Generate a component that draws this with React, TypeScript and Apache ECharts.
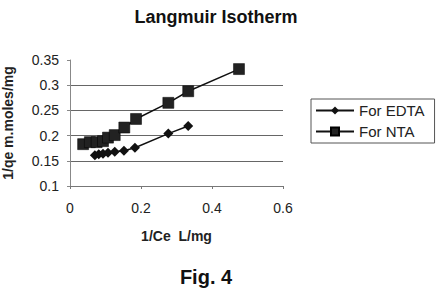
import React, { useEffect, useRef } from "react";
import * as echarts from "echarts";

const edtaX = [0.070, 0.081, 0.093, 0.107, 0.126, 0.152, 0.183, 0.277, 0.333];
const edtaY = [0.161, 0.163, 0.164, 0.166, 0.168, 0.170, 0.176, 0.204, 0.219];
const ntaX = [0.037, 0.056, 0.075, 0.093, 0.107, 0.126, 0.153, 0.186, 0.277, 0.333, 0.476];
const ntaY = [0.183, 0.187, 0.187, 0.189, 0.196, 0.201, 0.216, 0.233, 0.265, 0.288, 0.332];
const seriesNames = ["For EDTA", "For NTA"];

const FONT = "Liberation Sans, Arial, sans-serif";

export default function App() {
  const ref = useRef<HTMLDivElement>(null);
  useEffect(() => {
    if (!ref.current) return;
    const chart = echarts.init(ref.current, null, { renderer: "svg" });
    chart.setOption({
      animation: false,
      backgroundColor: "#fff",
      title: [
        {
          text: "Langmuir Isotherm",
          left: 211,
          top: 3,
          textAlign: "center",
          textStyle: { fontFamily: FONT, fontSize: 18, fontWeight: "bold", color: "#111" },
        },
        {
          text: "Fig. 4",
          left: 201,
          top: 262,
          textAlign: "center",
          textStyle: { fontFamily: FONT, fontSize: 20, fontWeight: "bold", color: "#111" },
        },
      ],
      grid: { left: 68, right: 154, top: 60, bottom: 110 },
      legend: {
        orient: "vertical",
        left: 311,
        top: 99,
        width: 117,
        itemWidth: 38,
        itemHeight: 10,
        itemGap: 6,
        padding: [4, 10, 4, 4],
        borderColor: "#555",
        borderWidth: 1,
        textStyle: { fontFamily: FONT, fontSize: 15, color: "#222" },
        data: seriesNames,
      },
      xAxis: {
        type: "value",
        min: 0,
        max: 0.6,
        interval: 0.2,
        name: "1/Ce  L/mg",
        nameLocation: "middle",
        nameGap: 43,
        nameTextStyle: { fontFamily: FONT, fontSize: 14, fontWeight: "bold", color: "#222" },
        axisLine: { show: true, lineStyle: { color: "#777", width: 1 } },
        axisTick: { show: true, length: 3, lineStyle: { color: "#777" } },
        splitLine: { show: false },
        axisLabel: { fontFamily: FONT, fontSize: 14, color: "#222", margin: 15 },
      },
      yAxis: {
        type: "value",
        min: 0.1,
        max: 0.35,
        interval: 0.05,
        name: "1/qe m.moles/mg",
        nameLocation: "middle",
        nameGap: 55,
        nameTextStyle: { fontFamily: FONT, fontSize: 14, fontWeight: "bold", color: "#222" },
        axisLine: { show: true, lineStyle: { color: "#888", width: 1 } },
        axisTick: { show: true, length: 3, lineStyle: { color: "#888" } },
        splitLine: {
          show: true,
          showMaxLine: false,
          lineStyle: { color: "#666", width: 1.2, type: "solid" },
        },
        axisLabel: {
          fontFamily: FONT,
          fontSize: 14,
          color: "#222",
          margin: 11,
          formatter: (v: number) => String(Math.round(v * 100) / 100),
        },
      },
      series: [
        {
          name: seriesNames[0],
          type: "line",
          data: edtaX.map((x, i) => [x, edtaY[i]]),
          symbol: "diamond",
          symbolSize: 10,
          itemStyle: { color: "#111" },
          lineStyle: { color: "#111", width: 1.5 },
        },
        {
          name: seriesNames[1],
          type: "line",
          data: ntaX.map((x, i) => [x, ntaY[i]]),
          symbol: "rect",
          symbolSize: 11,
          itemStyle: { color: "#222", borderColor: "#000", borderWidth: 0.5 },
          lineStyle: { color: "#111", width: 1.5 },
        },
      ],
    });
    return () => chart.dispose();
  }, []);
  return <div ref={ref} style={{ width: 437, height: 296, position: "absolute", left: 0, top: 0 }} />;
}
